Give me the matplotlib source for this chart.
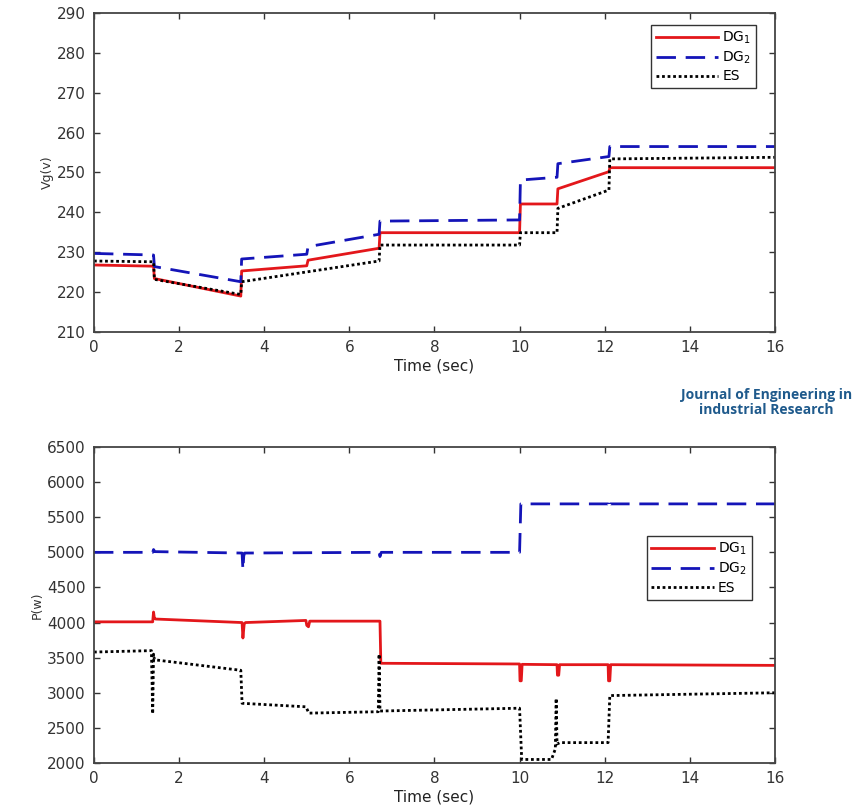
import matplotlib
matplotlib.use('Agg')
import matplotlib.pyplot as plt

# voltage (top panel)
t_v_dg1 = [0, 1.40, 1.42, 3.45, 3.47, 5.0, 5.03, 6.70, 6.72, 10.0, 10.02, 10.88, 10.90, 12.10, 12.12, 16]
v_dg1 = [226.8, 226.5, 223.4, 219.0, 225.3, 226.6, 228.0, 231.0, 234.9, 234.9, 242.1, 242.1, 245.9, 250.2, 251.2, 251.2]
t_v_dg2 = [0, 1.40, 1.42, 3.45, 3.47, 5.0, 5.03, 6.70, 6.72, 10.0, 10.02, 10.88, 10.90, 12.10, 12.12, 16]
v_dg2 = [229.7, 229.3, 226.4, 222.6, 228.3, 229.5, 231.4, 234.5, 237.8, 238.1, 248.1, 248.8, 252.2, 254.0, 256.5, 256.5]
t_v_es = [0, 1.40, 1.42, 3.45, 3.47, 6.70, 6.72, 10.0, 10.02, 10.88, 10.90, 12.10, 12.12, 16]
v_es = [227.8, 227.6, 223.2, 219.4, 222.6, 227.8, 231.8, 231.8, 234.9, 234.9, 241.0, 245.6, 253.4, 253.8]

# power (bottom panel)
t_p_dg1 = [0, 1.38, 1.40, 1.42, 1.45, 3.48, 3.50, 3.53, 3.56, 4.98, 5.0, 5.04, 5.07, 6.72, 6.74,
           10.0, 10.01, 10.04, 10.06, 10.88, 10.89, 10.92, 10.94, 12.08, 12.09, 12.12, 12.14, 16]
p_dg1 = [4010, 4010, 4150, 4060, 4050, 4000, 3780, 3980, 4000, 4030, 3960, 3940, 4020, 4020, 3420,
         3410, 3170, 3170, 3405, 3400, 3250, 3250, 3400, 3400, 3170, 3170, 3400, 3390]
t_p_dg2 = [0, 1.38, 1.40, 1.43, 3.48, 3.50, 3.52, 3.54, 6.70, 6.72, 6.75, 10.0, 10.03, 12.08, 12.10, 12.13, 16]
p_dg2 = [5000, 5000, 5040, 5010, 4990, 4750, 4950, 4990, 5000, 4940, 5000, 5000, 5690, 5690, 5620, 5690, 5690]
t_p_es = [0, 1.35, 1.38, 1.40, 1.42, 3.45, 3.48, 4.98, 5.05, 6.68, 6.70, 6.72, 10.0, 10.05, 10.75,
          10.84, 10.86, 10.88, 10.95, 12.08, 12.12, 16]
p_es = [3580, 3600, 2700, 3550, 3470, 3320, 2850, 2800, 2710, 2730, 3550, 2740, 2780, 2050, 2050,
        2200, 2920, 2270, 2290, 2290, 2960, 3000]

labels = ['DG$_1$', 'DG$_2$', 'ES']
xticks = [0, 2, 4, 6, 8, 10, 12, 14, 16]

plt.rcParams['font.family'] = ['DejaVu Sans']
plt.rcParams['mathtext.fontset'] = 'dejavusans'

fig = plt.figure(figsize=(8.62, 8.05), dpi=100)
ax1 = fig.add_axes([0.109, 0.5876, 0.790, 0.3963])
ax2 = fig.add_axes([0.109, 0.0522, 0.790, 0.3925])

red = '#e3171b'
blue = '#1414b8'


def style(ax):
    ax.set_xlim(0, 16)
    ax.set_xticks(xticks)
    ax.tick_params(direction='in', top=True, right=True, length=4, width=1,
                   colors='#333333', labelsize=11, pad=6)
    for s in ax.spines.values():
        s.set_color('#444444')
        s.set_linewidth(1.3)
    ax.set_xlabel('Time (sec)', fontsize=11, color='#222222', labelpad=2)


ax1.plot(t_v_dg1, v_dg1, color=red, lw=2, label=labels[0])
ax1.plot(t_v_dg2, v_dg2, color=blue, lw=2, dashes=(7, 3.5), label=labels[1])
ax1.plot(t_v_es, v_es, color='black', lw=2, linestyle=(0, (1, 1)), label=labels[2])
ax1.set_ylim(210, 290)
ax1.set_yticks(range(210, 291, 10))
ax1.set_ylabel('Vg(v)', fontsize=9, color='#333333', labelpad=2)
style(ax1)
ax1.legend(loc='upper right', bbox_to_anchor=(0.972, 0.963), borderaxespad=0,
           fancybox=False, edgecolor='#333333', framealpha=1, fontsize=10,
           handlelength=4.5, labelspacing=0.25, handletextpad=0.3, borderpad=0.35)

ax2.plot(t_p_dg1, p_dg1, color=red, lw=2, label=labels[0])
ax2.plot(t_p_dg2, p_dg2, color=blue, lw=2, dashes=(7, 3.5), label=labels[1])
ax2.plot(t_p_es, p_es, color='black', lw=2, linestyle=(0, (1, 1)), label=labels[2])
ax2.set_ylim(2000, 6500)
ax2.set_yticks(range(2000, 6501, 500))
ax2.set_ylabel('P(w)', fontsize=9, color='#333333', labelpad=2)
style(ax2)
ax2.legend(loc='upper right', bbox_to_anchor=(0.966, 0.718), borderaxespad=0,
           fancybox=False, edgecolor='#333333', framealpha=1, fontsize=10,
           handlelength=4.5, labelspacing=0.25, handletextpad=0.3, borderpad=0.35)

fig.text(0.889, 0.500, 'Journal of Engineering in\nindustrial Research', ha='center', va='center',
         fontsize=10, fontweight='bold', color='#1f5a8c', linespacing=1.05,
         family=['Open Sans', 'DejaVu Sans'])

fig.savefig('out.png', dpi=100)
